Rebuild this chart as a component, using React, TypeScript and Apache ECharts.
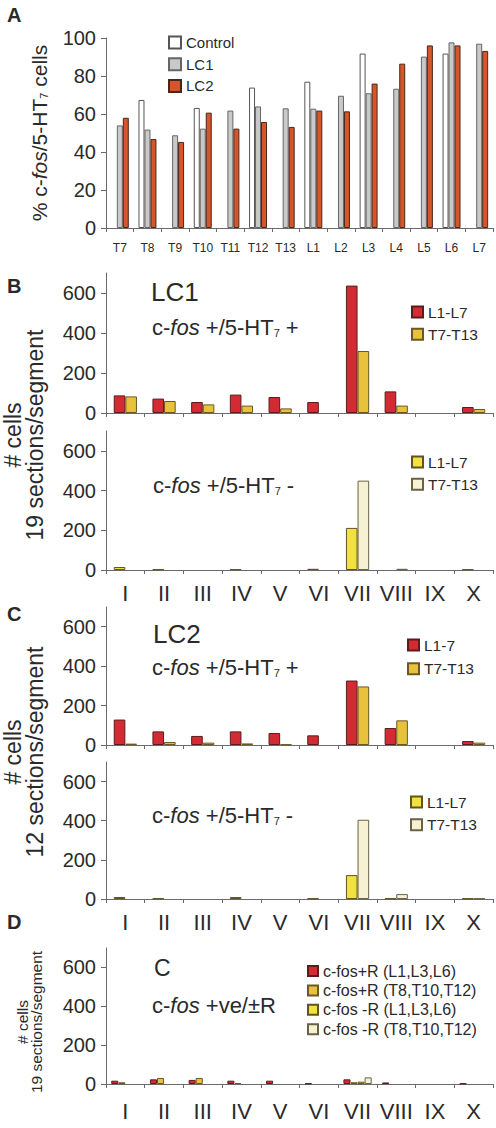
import React, { useEffect, useRef } from 'react';
import * as echarts from 'echarts';

// ---------- data ----------
const segmentsA = ['T7', 'T8', 'T9', 'T10', 'T11', 'T12', 'T13', 'L1', 'L2', 'L3', 'L4', 'L5', 'L6', 'L7'];
const controlA = [null, 67.4, null, 63.2, null, 73.9, null, 77, null, 91.8, null, null, 91.8, null];
const lc1A = [54, 51.8, 48.8, 52.3, 61.8, 64, 63, 62.8, 69.6, 70.9, 73.3, 90.2, 97.7, 97];
const lc2A = [58, 46.8, 45.3, 60.7, 52.3, 55.8, 53.2, 61.8, 61.4, 76, 86.5, 96.1, 96.1, 93.2];
const percentTicks = [0, 20, 40, 60, 80, 100];

const laminae = ['I', 'II', 'III', 'IV', 'V', 'VI', 'VII', 'VIII', 'IX', 'X'];
const countTicks = [0, 200, 400, 600];
const COUNT_MAX = 700;

// LC1, c-fos+/5-HT7+
const lc1PosL = [88, 72, 55, 92, 80, 55, 637, 108, 0, 30];
const lc1PosT = [83, 60, 43, 37, 23, 0, 310, 37, 0, 20];
// LC1, c-fos+/5-HT7-
const lc1NegL = [15, 3, 0, 3, 0, 6, 212, 0, 0, 3];
const lc1NegT = [0, 0, 0, 0, 0, 0, 450, 6, 0, 0];
// LC2, c-fos+/5-HT7+
const lc2PosL = [129, 69, 46, 69, 61, 49, 327, 86, 0, 20];
const lc2PosT = [7, 15, 12, 8, 3, 0, 297, 125, 0, 12];
// LC2, c-fos+/5-HT7-
const lc2NegL = [10, 3, 0, 10, 0, 3, 122, 3, 0, 3];
const lc2NegT = [0, 0, 0, 0, 0, 0, 405, 25, 0, 3];
// Control, c-fos +ve / ±R
const ctlPosL = [17, 24, 21, 17, 17, 3, 24, 8, 0, 3];
const ctlPosT = [9, 31, 31, 5, 0, 0, 9, 0, 0, 0];
const ctlNegL = [0, 0, 0, 0, 0, 0, 12, 0, 0, 0];
const ctlNegT = [0, 0, 0, 0, 0, 0, 34, 0, 0, 0];

// ---------- styling ----------
const FONT = '"Liberation Sans", Arial, Helvetica, sans-serif';
const TXT = '#2a2a2a';
const AX = '#6a6a6a';

const C_WHITE = '#ffffff';
const C_GRAY = '#c9c9c9';
const C_ORANGE = '#d4562a';
const C_RED = '#d32b34';
const C_GOLD = '#e8c23c';
const C_YELLOW = '#f3e13e';
const C_CREAM = '#f7f1d4';

const grids = [
  { left: 106, top: 38, width: 387, height: 190 },
  { left: 106, top: 273, width: 387, height: 140 },
  { left: 106, top: 431, width: 387, height: 139 },
  { left: 106, top: 607, width: 387, height: 138 },
  { left: 106, top: 762, width: 387, height: 137 },
  { left: 106, top: 948, width: 387, height: 136 },
];

const mkX = (idx: number, data: string[], show: boolean, fontSize: number, margin: number) => ({
  type: 'category',
  gridIndex: idx,
  data,
  axisLine: { show: true, lineStyle: { color: AX, width: 1 } },
  axisTick: { show: true, length: 4, lineStyle: { color: AX } },
  axisLabel: { show, fontSize, margin, color: TXT, fontFamily: FONT, interval: 0 },
  splitLine: { show: false },
});

const mkY = (idx: number, max: number, interval: number, ticks: number[]) => ({
  type: 'value',
  gridIndex: idx,
  min: 0,
  max,
  interval,
  axisLine: { show: true, lineStyle: { color: AX, width: 1 } },
  axisTick: { show: true, length: 5, lineStyle: { color: AX }, customValues: ticks },
  axisLabel: { fontSize: 20, margin: 10, color: TXT, fontFamily: FONT, customValues: ticks },
  splitLine: { show: false },
});

const mkBar = (name: string, data: (number | null)[], idx: number, color: string, border: string, gap: string) => ({
  type: 'bar',
  name,
  data: data.map((v) => (v === 0 ? null : v)),
  xAxisIndex: idx,
  yAxisIndex: idx,
  barGap: '0%',
  barCategoryGap: gap,
  itemStyle: { color, borderColor: border, borderWidth: 1 },
  emphasis: { disabled: true },
  silent: true,
});

const mkLegend = (names: string[], left: number, top: number, size: number, fontSize: number, gap: number) => ({
  data: names,
  left,
  top,
  orient: 'vertical',
  padding: 0,
  itemWidth: size,
  itemHeight: size,
  itemGap: gap,
  icon: 'rect',
  selectedMode: false,
  formatter: (n: string) => n.split('|')[1],
  textStyle: { fontSize, color: TXT, fontFamily: FONT },
});

const richFor = (fs: number) => ({
  n: { fontSize: fs, fontFamily: FONT, fill: TXT, lineHeight: fs + 4, verticalAlign: 'bottom' },
  i: { fontSize: fs, fontFamily: FONT, fontStyle: 'italic', fill: TXT, lineHeight: fs + 4, verticalAlign: 'bottom' },
  s: { fontSize: Math.round(fs * 0.5), fontFamily: FONT, fill: TXT, lineHeight: Math.round(fs * 0.5), verticalAlign: 'bottom' },
});

const richText = (text: string, x: number, y: number, fs: number, rotation = 0) => ({
  type: 'text',
  x,
  y,
  rotation,
  silent: true,
  style: { text, rich: richFor(fs), align: rotation ? 'center' : 'left', verticalAlign: 'middle', fill: TXT },
});

const plainText = (text: string, x: number, y: number, font: string) => ({
  type: 'text',
  x,
  y,
  silent: true,
  style: { text, font, fill: TXT, align: 'left', verticalAlign: 'middle' },
});

const yTitle = (text: string, x: number, y: number, fs: number, lh: number) => ({
  type: 'text',
  x,
  y,
  rotation: Math.PI / 2,
  silent: true,
  style: { text, font: `${fs}px ${FONT}`, fill: TXT, align: 'center', verticalAlign: 'middle', lineHeight: lh },
});

export default function App() {
  const ref = useRef<HTMLDivElement>(null);

  useEffect(() => {
    if (!ref.current) return;
    const chart = echarts.init(ref.current, null, { renderer: 'svg' });
    const gapB = '40%';
    const option: any = {
      animation: false,
      backgroundColor: '#ffffff',
      grid: grids,
      xAxis: [
        mkX(0, segmentsA, true, 12, 14),
        mkX(1, laminae, false, 22, 12),
        mkX(2, laminae, true, 22, 12),
        mkX(3, laminae, false, 22, 12),
        mkX(4, laminae, true, 22, 12),
        mkX(5, laminae, true, 22, 16),
      ],
      yAxis: [
        mkY(0, 100, 20, percentTicks),
        mkY(1, COUNT_MAX, 100, countTicks),
        mkY(2, COUNT_MAX, 100, countTicks),
        mkY(3, COUNT_MAX, 100, countTicks),
        mkY(4, COUNT_MAX, 100, countTicks),
        mkY(5, COUNT_MAX, 100, countTicks),
      ],
      legend: [
        mkLegend(['A|Control', 'A|LC1', 'A|LC2'], 168, 35, 12, 15, 6.7),
        mkLegend(['B1|L1-L7', 'B1|T7-T13'], 411, 304, 11, 15.5, 6.2),
        mkLegend(['B2|L1-L7', 'B2|T7-T13'], 411, 454, 11, 15.5, 6.2),
        mkLegend(['C1|L1-7', 'C1|T7-T13'], 407, 637, 11, 15.5, 7.8),
        mkLegend(['C2|L1-L7', 'C2|T7-T13'], 410, 794, 11, 15.5, 6.8),
        mkLegend(
          ['D|c-fos+R (L1,L3,L6)', 'D|c-fos+R (T8,T10,T12)', 'D|c-fos -R (L1,L3,L6)', 'D|c-fos -R (T8,T10,T12)'],
          307, 963, 10, 16, 3.4
        ),
      ],
      series: [
        mkBar('A|Control', controlA, 0, C_WHITE, '#555555', '35%'),
        mkBar('A|LC1', lc1A, 0, C_GRAY, '#666666', '35%'),
        mkBar('A|LC2', lc2A, 0, C_ORANGE, '#4a2618', '35%'),
        mkBar('B1|L1-L7', lc1PosL, 1, C_RED, '#5a1c1c', gapB),
        mkBar('B1|T7-T13', lc1PosT, 1, C_GOLD, '#6b5824', gapB),
        mkBar('B2|L1-L7', lc1NegL, 2, C_YELLOW, '#5e5420', gapB),
        mkBar('B2|T7-T13', lc1NegT, 2, C_CREAM, '#6a6244', gapB),
        mkBar('C1|L1-7', lc2PosL, 3, C_RED, '#5a1c1c', gapB),
        mkBar('C1|T7-T13', lc2PosT, 3, C_GOLD, '#6b5824', gapB),
        mkBar('C2|L1-L7', lc2NegL, 4, C_YELLOW, '#5e5420', gapB),
        mkBar('C2|T7-T13', lc2NegT, 4, C_CREAM, '#6a6244', gapB),
        mkBar('D|c-fos+R (L1,L3,L6)', ctlPosL, 5, C_RED, '#5a1c1c', '27%'),
        mkBar('D|c-fos+R (T8,T10,T12)', ctlPosT, 5, C_GOLD, '#6b5824', '27%'),
        mkBar('D|c-fos -R (L1,L3,L6)', ctlNegL, 5, C_YELLOW, '#5e5420', '27%'),
        mkBar('D|c-fos -R (T8,T10,T12)', ctlNegT, 5, C_CREAM, '#6a6244', '27%'),
      ],
      graphic: [
        plainText('A', 7, 15, `bold 20px ${FONT}`),
        plainText('B', 7, 286, `bold 20px ${FONT}`),
        plainText('C', 7, 614, `bold 20px ${FONT}`),
        plainText('D', 7, 922, `bold 20px ${FONT}`),
        plainText('LC1', 151, 291.5, `26px ${FONT}`),
        plainText('LC2', 153, 633.5, `26px ${FONT}`),
        plainText('C', 154, 968, `23px ${FONT}`),
        richText('{n|c-}{i|fos}{n| +/5-HT}{s|7}{n| +}', 152, 325, 22),
        richText('{n|c-}{i|fos}{n| +/5-HT}{s|7}{n| -}', 153, 483, 22),
        richText('{n|c-}{i|fos}{n| +/5-HT}{s|7}{n| +}', 152, 665, 22),
        richText('{n|c-}{i|fos}{n| +/5-HT}{s|7}{n| -}', 152, 813, 22),
        richText('{n|c-}{i|fos}{n| +ve/±R}', 152, 1003.5, 22),
        richText('{n|% c-}{i|fos}{n|/5-HT}{s|7}{n| cells}', 37, 133, 21, Math.PI / 2),
        yTitle('# cells\n19 sections/segment', 23.5, 435, 23, 22),
        yTitle('# cells\n12 sections/segment', 23.5, 752, 23, 22),
        yTitle('# cells\n19 sections/segment', 29.5, 1022, 15.5, 14),
      ],
    };
    chart.setOption(option);
    return () => chart.dispose();
  }, []);

  return (
    <div
      ref={ref}
      style={{ position: 'absolute', left: 0, top: 0, width: 496, height: 1128, background: '#fff' }}
    />
  );
}
